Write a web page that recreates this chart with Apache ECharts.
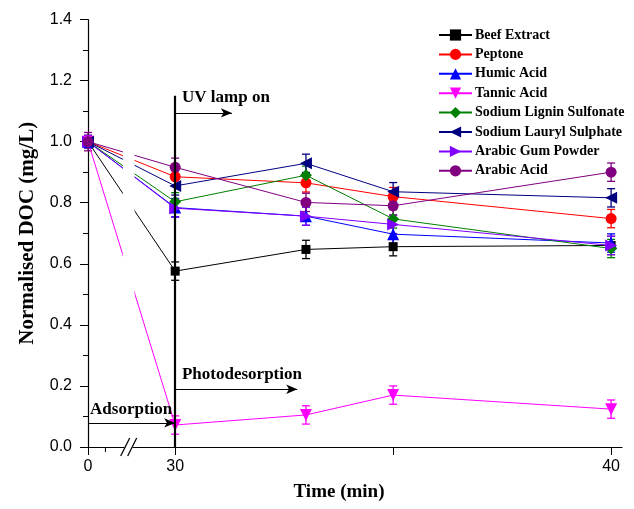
<!DOCTYPE html>
<html>
<head>
<meta charset="utf-8">
<script src="https://cdn.jsdelivr.net/npm/echarts@6/dist/echarts.min.js"></script>
<style>
  html, body { margin: 0; padding: 0; background: #fff; }
  #main { width: 634px; height: 509px; }
</style>
</head>
<body>
<div id="main"></div>
<script>
// sampling times (min)
var times = [0, 30, 33, 35, 40];

var names = ["Beef Extract", "Peptone", "Humic Acid", "Tannic Acid",
  "Sodium Lignin Sulfonate", "Sodium Lauryl Sulphate", "Arabic Gum Powder", "Arabic Acid"];

// normalised DOC
var beefExtract   = [1.0, 0.576, 0.647, 0.656, 0.660];
var peptone       = [1.0, 0.885, 0.865, 0.820, 0.748];
var humicAcid     = [1.0, 0.784, 0.756, 0.697, 0.668];
var tannicAcid    = [1.0, 0.072, 0.105, 0.170, 0.124];
var ligninSulf    = [1.0, 0.803, 0.890, 0.747, 0.650];
var laurylSulph   = [1.0, 0.855, 0.929, 0.836, 0.816];
var arabicGum     = [1.0, 0.782, 0.756, 0.729, 0.660];
var arabicAcid    = [1.0, 0.916, 0.801, 0.790, 0.900];

// error bar half widths
var beefErr    = [0.02, 0.03, 0.03, 0.03, 0.03];
var peptoneErr = [0.02, 0.03, 0.03, 0.03, 0.03];
var humicErr   = [0.02, 0.03, 0.03, 0.03, 0.03];
var tannicErr  = [0.02, 0.03, 0.03, 0.03, 0.03];
var ligninErr  = [0.02, 0.03, 0.03, 0.03, 0.03];
var laurylErr  = [0.02, 0.03, 0.03, 0.03, 0.03];
var gumErr     = [0.02, 0.03, 0.03, 0.03, 0.03];
var acidErr    = [0.03, 0.03, 0.03, 0.03, 0.03];

var yTicks = [0, 0.2, 0.4, 0.6, 0.8, 1.0, 1.2, 1.4];
var xTickTimes = [0, 30, 35, 40];
var xLabelTimes = [0, 30, 40];

var values = [beefExtract, peptone, humicAcid, tannicAcid, ligninSulf, laurylSulph, arabicGum, arabicAcid];
var errs = [beefErr, peptoneErr, humicErr, tannicErr, ligninErr, laurylErr, gumErr, acidErr];

var colors = ["#000000", "#ff0000", "#0000ff", "#ff00ff", "#008000", "#000080", "#8000ff", "#800080"];
var symbols = ["rect", "circle", "triangle", "triangle", "diamond", "triangle", "triangle", "circle"];
var rotates = [0, 0, 0, 180, 0, 90, -90, 0];
var sizes = [9, 11, 12, 12, 12, 12, 12, 11];

// broken axis: 0..30 min squeezed into 2 axis units before 30
function xPos(t) {
  return t >= 30 ? t : 28 + t * 2 / 30;
}

var serif = "'Liberation Serif', 'Times New Roman', serif";
var sans = "'Liberation Sans', Arial, sans-serif";

var series = [];
names.forEach(function (name, i) {
  series.push({
    type: "line",
    name: name,
    data: times.map(function (t, j) { return [xPos(t), values[i][j]]; }),
    symbol: symbols[i],
    symbolSize: sizes[i],
    symbolRotate: rotates[i],
    showAllSymbol: true,
    itemStyle: { color: colors[i] },
    lineStyle: { color: colors[i], width: 1 },
    z: 3,
    animation: false
  });
});
names.forEach(function (name, i) {
  series.push({
    type: "custom",
    name: name + " err",
    data: times.map(function (t, j) { return [xPos(t), values[i][j] - errs[i][j], values[i][j] + errs[i][j]]; }),
    renderItem: function (params, api) {
      var top = api.coord([api.value(0), api.value(2)]);
      var bot = api.coord([api.value(0), api.value(1)]);
      var w = 4;
      var style = { stroke: colors[i], lineWidth: 1.3 };
      return {
        type: "group",
        children: [
          { type: "line", shape: { x1: top[0], y1: top[1], x2: bot[0], y2: bot[1] }, style: style },
          { type: "line", shape: { x1: top[0] - w, y1: top[1], x2: top[0] + w, y2: top[1] }, style: style },
          { type: "line", shape: { x1: bot[0] - w, y1: bot[1], x2: bot[0] + w, y2: bot[1] }, style: style }
        ]
      };
    },
    z: 2,
    animation: false
  });
});

// UV lamp line and the three arrows
series[0].markLine = {
  silent: true,
  animation: false,
  symbol: ["none", "arrow"],
  symbolSize: [7, 11],
  label: { show: false },
  lineStyle: { color: "#000", type: "solid", width: 1.2 },
  data: [
    [{ coord: [30, 0], symbol: "none", lineStyle: { width: 2.2 } }, { coord: [30, 1.15], symbol: "none" }],
    [{ coord: [30, 1.094] }, { coord: [31.3, 1.094] }],
    [{ coord: [30, 0.189] }, { coord: [32.8, 0.189] }],
    [{ coord: [xPos(0), 0.079] }, { coord: [30, 0.079] }]
  ]
};

var dom = document.getElementById("main");
var myChart = echarts.init(dom, null, { renderer: "canvas" });

myChart.setOption({
  animation: false,
  backgroundColor: "#fff",
  grid: { left: 88, right: 12, top: 19.5, bottom: 62, containLabel: false, outerBoundsMode: "none" },
  legend: {
    orient: "vertical",
    left: 433,
    top: 23,
    itemWidth: 33,
    itemHeight: 14,
    itemGap: 5.4,
    data: names,
    selectedMode: false,
    textStyle: { fontFamily: serif, fontWeight: "bold", fontSize: 14, color: "#000", padding: [0, 0, 0, -2] }
  },
  xAxis: {
    type: "value",
    min: 28,
    max: 40.25,
    axisLine: { show: true, onZero: false, lineStyle: { color: "#000", width: 1.2 } },
    axisTick: { show: true, length: 8, customValues: xTickTimes.map(xPos), lineStyle: { color: "#000" } },
    axisLabel: {
      customValues: xLabelTimes.map(xPos),
      formatter: function (v) { return v < 30 ? "0" : String(Math.round(v)); },
      color: "#000", fontSize: 16, fontFamily: sans, margin: 12
    },
    splitLine: { show: false },
    name: "Time (min)",
    nameLocation: "middle",
    nameGap: 36,
    nameTextStyle: { fontFamily: serif, fontWeight: "bold", fontSize: 19, color: "#000", padding: [0, 32, 0, 0] }
  },
  yAxis: {
    type: "value",
    min: yTicks[0],
    max: yTicks[yTicks.length - 1],
    interval: 0.2,
    axisLine: { show: true, lineStyle: { color: "#000", width: 1.2 } },
    axisTick: { show: true, length: 8, lineStyle: { color: "#000" } },
    minorTick: { show: true, splitNumber: 2, length: 5, lineStyle: { color: "#000" } },
    axisLabel: {
      formatter: function (v) { return v.toFixed(1); },
      color: "#000", fontSize: 16, fontFamily: sans, margin: 16
    },
    splitLine: { show: false },
    name: "Normalised DOC (mg/L)",
    nameLocation: "middle",
    nameGap: 50,
    nameTextStyle: { fontFamily: serif, fontWeight: "bold", fontSize: 21, color: "#000" }
  },
  series: series
});

// gap in the 0-30 segments, break marks and annotation texts
function px(t, v) {
  return myChart.convertToPixel({ gridIndex: 0 }, [xPos(t), v]);
}
var gapA = px(12, 0.985), gapB = px(16, 0.45);
var brk = px(14, 0);
var minor = px(6, 0);
var uv = myChart.convertToPixel({ gridIndex: 0 }, [30.156, 1.143]);
var photo = myChart.convertToPixel({ gridIndex: 0 }, [30.156, 0.236]);
var ads = px(0.7, 0.124);
var txt = { fontFamily: serif, fontWeight: "bold", fontSize: 17, fill: "#000", align: "left", verticalAlign: "middle" };

myChart.setOption({
  graphic: [
    { type: "rect", z: 50, shape: { x: gapA[0], y: gapA[1], width: gapB[0] - gapA[0], height: gapB[1] - gapA[1] }, style: { fill: "#fff" } },
    { type: "rect", z: 50, shape: { x: brk[0] - 4, y: brk[1] - 1.5, width: 8, height: 3 }, style: { fill: "#fff" } },
    { type: "line", z: 60, shape: { x1: brk[0] - 8, y1: brk[1] + 9, x2: brk[0] + 1, y2: brk[1] - 9 }, style: { stroke: "#000", lineWidth: 1.2 } },
    { type: "line", z: 60, shape: { x1: brk[0] - 1, y1: brk[1] + 9, x2: brk[0] + 8, y2: brk[1] - 9 }, style: { stroke: "#000", lineWidth: 1.2 } },
    { type: "line", z: 60, shape: { x1: minor[0], y1: minor[1], x2: minor[0], y2: minor[1] + 5 }, style: { stroke: "#000", lineWidth: 1 } },
    { type: "text", z: 60, x: uv[0], y: uv[1], style: Object.assign({ text: "UV lamp on" }, txt) },
    { type: "text", z: 60, x: photo[0], y: photo[1], style: Object.assign({ text: "Photodesorption" }, txt) },
    { type: "text", z: 60, x: ads[0], y: ads[1], style: Object.assign({ text: "Adsorption" }, txt) }
  ]
});
</script>
</body>
</html>
